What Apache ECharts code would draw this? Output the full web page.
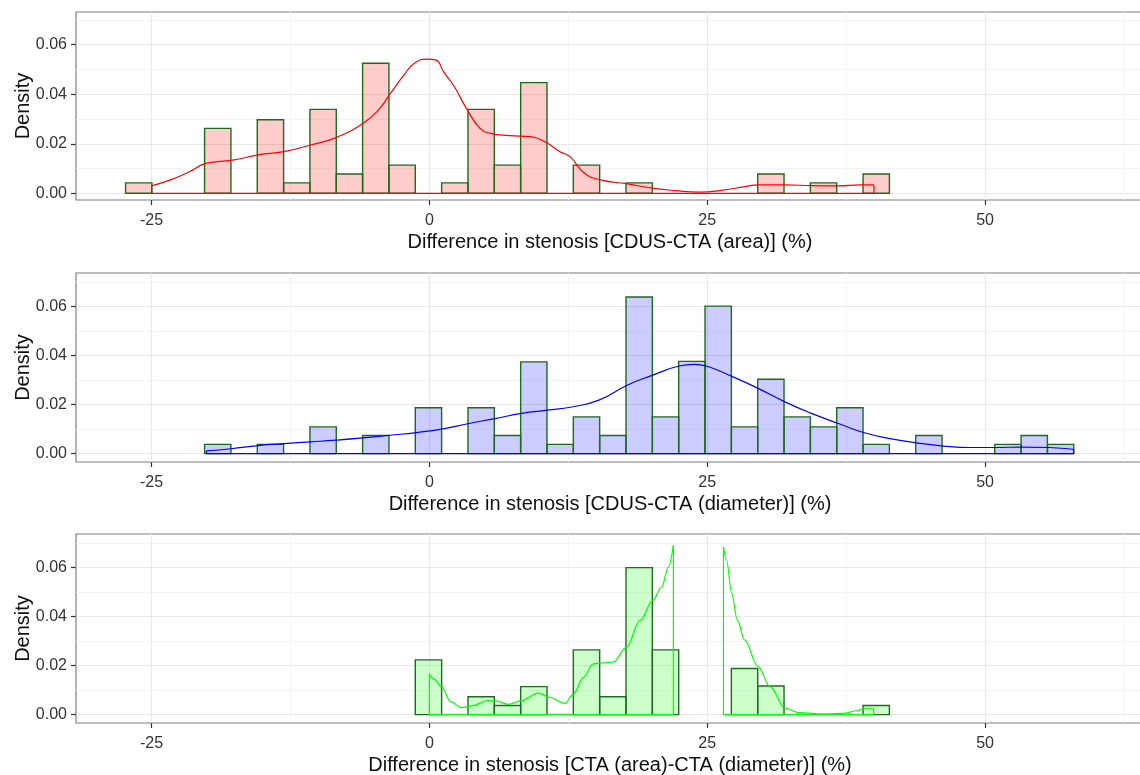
<!DOCTYPE html>
<html>
<head>
<meta charset="utf-8">
<script src="https://cdn.jsdelivr.net/npm/echarts@6/dist/echarts.min.js"></script>
<style>html,body{margin:0;padding:0;background:#fff;}#c{width:1140px;height:775px;}</style>
</head>
<body>
<div id="c"></div>
<script>
// ---- data ----
const binStart = -27.34;
const binWidth = 2.37;
const xTicks = [-25, 0, 25, 50];
const xMinorTicks = [-37.5, -12.5, 12.5, 37.5, 62.5];
const yTicks = [0, 0.02, 0.04, 0.06];
const yMinorTicks = [0.01, 0.03, 0.05, 0.07];
const xTitles = [
  'Difference in stenosis [CDUS-CTA (area)] (%)',
  'Difference in stenosis [CDUS-CTA (diameter)] (%)',
  'Difference in stenosis [CTA (area)-CTA (diameter)] (%)'
];
const yTitle = 'Density';

// histogram densities per bin (bin k spans binStart + k*binWidth .. +binWidth)
const areaDensity = [0.0042,0,0,0.0262,0,0.0297,0.0042,0.0339,0.0078,0.0525,0.0114,0,0.0042,0.0339,0.0114,0.0447,0,0.0114,0,0.0042,0,0,0,0,0.0078,0,0.0042,0,0.0078];
const diamDensity = [0,0,0,0.0038,0,0.0038,0,0.0109,0,0.0074,0,0.0187,0,0.0187,0.0074,0.0374,0.0038,0.015,0.0074,0.0638,0.015,0.0376,0.0601,0.0109,0.0303,0.015,0.0109,0.0187,0.0038,0,0.0074,0,0,0.0038,0.0074,0.0038];
const ctaDensity = [0,0,0,0,0,0,0,0,0,0,0,0.0223,0,0.0073,0.0037,0.0114,0,0.0264,0.0073,0.0599,0.0264,0,0,0.0188,0.0117,0,0,0,0.0037];

// kernel density curves
const areaCurveX = [-25,-23.3,-21.6,-20.1,-17.7,-15.4,-13.1,-10.7,-8.4,-6.0,-4.6,-3.6,-2.3,-1.35,-0.2,0.6,1.27,2.25,3.24,4.55,5.5,7.2,9.1,10.4,11.75,12.65,13.95,15.4,17.8,20.2,22.1,24.3,26.4,28.4,29.6,32.0,34.4,36.8,38.8,40.0];
const areaCurveY = [0.003,0.0054,0.0087,0.0121,0.0134,0.0155,0.0168,0.0195,0.0225,0.0282,0.0336,0.0397,0.0477,0.0525,0.0542,0.0538,0.0491,0.043,0.035,0.0262,0.0242,0.0233,0.0229,0.0208,0.0168,0.0148,0.0081,0.0054,0.0038,0.002,0.0011,0.0005,0.0013,0.0027,0.0034,0.0034,0.0031,0.003,0.0034,0.0034];
const diamCurveX = [-20.07,-17.84,-15.4,-13.06,-10.67,-8.38,-6.0,-3.57,-1.18,1.11,3.56,5.92,8.31,10.6,12.8,15.25,17.79,20.1,22.47,23.8,24.9,27.27,29.57,31.99,34.38,36.8,39.06,41.45,43.83,46.26,48.65,50.94,53.33,55.75,57.97];
const diamCurveY = [0.0011,0.002,0.0033,0.0041,0.0048,0.0055,0.0064,0.0075,0.0086,0.01,0.0123,0.0143,0.0164,0.0177,0.019,0.0218,0.0279,0.032,0.0357,0.0364,0.0357,0.0314,0.0266,0.0211,0.0164,0.0123,0.0086,0.0061,0.0044,0.0031,0.0025,0.0025,0.0027,0.0025,0.0018];
const ctaCurve1X = [0,0.4,1.1,1.9,2.9,3.9,5.2,6.0,7.1,8.3,9.8,10.8,12.2,12.95,13.85,14.74,15.64,16.54,17.75,18.95,20.1,20.9,21.5,21.95];
const ctaCurve1Y = [0.0165,0.0145,0.0114,0.0053,0.0029,0.0037,0.0057,0.0056,0.0042,0.0057,0.0088,0.0071,0.0046,0.0084,0.0152,0.0207,0.0211,0.0214,0.0275,0.0384,0.0465,0.052,0.0601,0.069];
const ctaCurve2X = [26.46,26.73,27.2,27.7,28.35,29.57,30.65,31.99,33.27,35.55,37.2,38.5,39.15,39.97];
const ctaCurve2Y = [0.0683,0.0631,0.0495,0.0386,0.0305,0.0196,0.0114,0.0026,0.0008,0.0003,0.0005,0.0016,0.0026,0.0026];

// ---- layout / style ----
const FONT = "'Liberation Sans', Arial, sans-serif";
const X_MIN = -31.8, X_MAX = 64.3;
const panels = [
  {dens: areaDensity, curves: [[areaCurveX, areaCurveY]], fill: 'rgba(255,0,0,0.2)', line: '#ff0000', smooth: 0.5, mono: undefined, top: 12, height: 188, yMin: -0.0027, yMax: 0.0732},
  {dens: diamDensity, curves: [[diamCurveX, diamCurveY]], fill: 'rgba(0,0,255,0.2)', line: '#0000ff', smooth: 0.5, mono: undefined, top: 273, height: 189, yMin: -0.0034, yMax: 0.0736},
  {dens: ctaDensity, curves: [[ctaCurve1X, ctaCurve1Y], [ctaCurve2X, ctaCurve2Y]], fill: 'rgba(0,255,0,0.2)', line: '#00ff00', smooth: 0.35, mono: 'x', top: 534, height: 189, yMin: -0.0034, yMax: 0.0736}
];

const grid = [], xAxis = [], yAxis = [], series = [];
panels.forEach((p, i) => {
  grid.push({left: 76, right: -4, top: p.top, height: p.height, show: true,
    outerBoundsMode: 'none',
    borderColor: '#7d7d7d', borderWidth: 1.2, backgroundColor: 'transparent', containLabel: false});
  xAxis.push({type: 'value', gridIndex: i, min: X_MIN, max: X_MAX, position: 'bottom',
    name: xTitles[i], nameLocation: 'middle', nameGap: 32, nameMoveOverlap: false,
    nameTextStyle: {fontFamily: FONT, fontSize: 20, color: '#111'},
    axisLine: {show: false, onZero: false},
    axisTick: {show: true, length: 5, customValues: xTicks, lineStyle: {color: '#333', width: 1.2}},
    axisLabel: {customValues: xTicks, margin: 13, fontFamily: FONT, fontSize: 16, color: '#333', formatter: v => String(v)},
    splitLine: {show: true, lineStyle: {color: '#e8e8e8', width: 1.2}}
  });
  xAxis.push({type: 'value', gridIndex: i, min: X_MIN, max: X_MAX, position: 'bottom',
    axisLine: {show: false, onZero: false},
    axisTick: {show: false, customValues: xMinorTicks},
    axisLabel: {show: false, customValues: xMinorTicks},
    splitLine: {show: true, lineStyle: {color: '#f4f4f4', width: 1}}
  });
  yAxis.push({type: 'value', gridIndex: i, min: p.yMin, max: p.yMax, position: 'left',
    name: yTitle, nameLocation: 'middle', nameRotate: 90, nameGap: 43, nameMoveOverlap: false,
    nameTextStyle: {fontFamily: FONT, fontSize: 20, color: '#111'},
    axisLine: {show: false, onZero: false},
    axisTick: {show: true, length: 5, customValues: yTicks, lineStyle: {color: '#333', width: 1.2}},
    axisLabel: {customValues: yTicks, margin: 9, fontFamily: FONT, fontSize: 16, color: '#333', formatter: v => v.toFixed(2)},
    splitLine: {show: true, lineStyle: {color: '#e8e8e8', width: 1.2}}
  });
  yAxis.push({type: 'value', gridIndex: i, min: p.yMin, max: p.yMax, position: 'left',
    axisLine: {show: false, onZero: false},
    axisTick: {show: false, customValues: yMinorTicks},
    axisLabel: {show: false, customValues: yMinorTicks},
    splitLine: {show: true, lineStyle: {color: '#f4f4f4', width: 1}}
  });

  const bars = [];
  p.dens.forEach((d, k) => {
    if (d > 0) bars.push([binStart + k * binWidth, binStart + (k + 1) * binWidth, d]);
  });
  const fill = p.fill;
  series.push({
    type: 'custom', xAxisIndex: 2 * i, yAxisIndex: 2 * i, z: 2,
    data: bars, encode: {x: [0, 1], y: 2},
    renderItem: (params, api) => {
      const a = api.coord([api.value(0), api.value(2)]);
      const b = api.coord([api.value(1), 0]);
      return {type: 'rect', shape: {x: a[0], y: a[1], width: b[0] - a[0], height: b[1] - a[1]},
        style: {fill: fill, stroke: '#1f6a1f', lineWidth: 1.4}};
    }
  });
  p.curves.forEach(([cx, cy]) => {
    const pts = cx.map((x, j) => [x, cy[j]]);
    series.push({type: 'line', xAxisIndex: 2 * i, yAxisIndex: 2 * i, z: 4,
      data: pts, showSymbol: false, smooth: p.smooth, smoothMonotone: p.mono,
      lineStyle: {color: p.line, width: 1.2}, silent: true});
    const n = cx.length - 1;
    series.push({type: 'line', xAxisIndex: 2 * i, yAxisIndex: 2 * i, z: 4,
      data: [[cx[0], cy[0]], [cx[0], 0], [cx[n], 0], [cx[n], cy[n]]],
      showSymbol: false, lineStyle: {color: p.line, width: 1.2}, silent: true});
  });
});

const chart = echarts.init(document.getElementById('c'), null, {renderer: 'canvas'});
chart.setOption({animation: false, backgroundColor: '#fff', grid, xAxis, yAxis, series});
</script>
</body>
</html>
